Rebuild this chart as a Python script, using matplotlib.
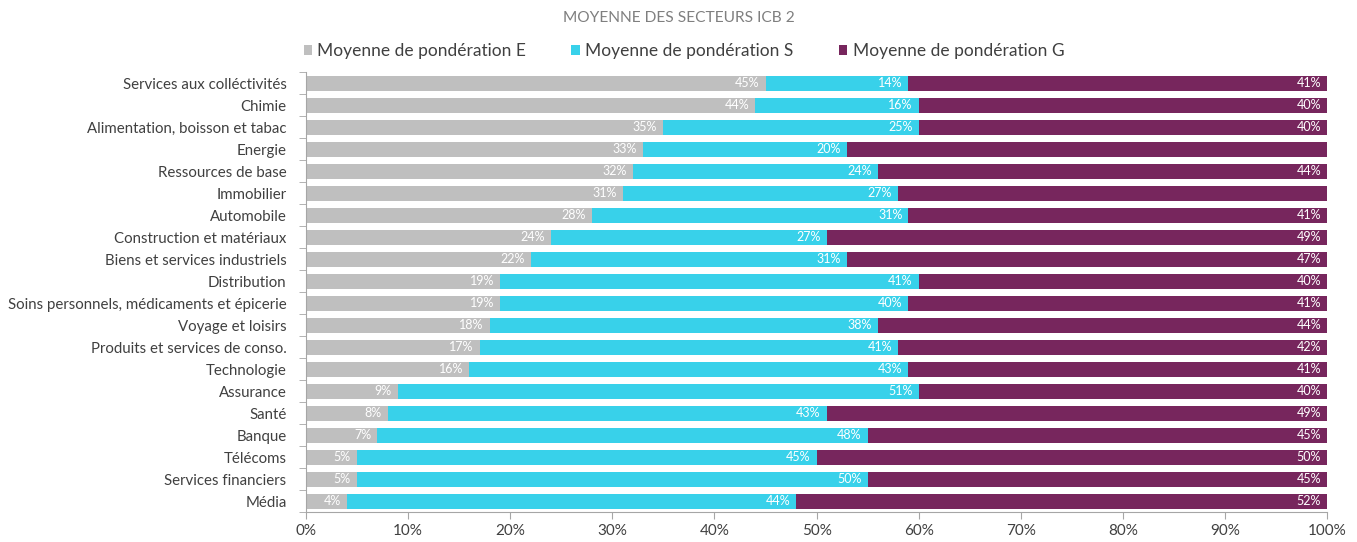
import numpy as np
import matplotlib
matplotlib.use("Agg")
import matplotlib.pyplot as plt
from matplotlib.ticker import FuncFormatter

plt.rcParams['font.family'] = ['Lato', 'DejaVu Sans']

# data (top to bottom)
secteurs = ['Services aux colléctivités', 'Chimie', 'Alimentation, boisson et tabac', 'Energie',
            'Ressources de base', 'Immobilier', 'Automobile', 'Construction et matériaux',
            'Biens et services industriels', 'Distribution',
            'Soins personnels, médicaments et épicerie', 'Voyage et loisirs',
            'Produits et services de conso.', 'Technologie', 'Assurance', 'Santé', 'Banque',
            'Télécoms', 'Services financiers', 'Média']
pond_E = [45, 44, 35, 33, 32, 31, 28, 24, 22, 19, 19, 18, 17, 16, 9, 8, 7, 5, 5, 4]
pond_S = [14, 16, 25, 20, 24, 27, 31, 27, 31, 41, 40, 38, 41, 43, 51, 43, 48, 45, 50, 44]
pond_G = [41, 40, 40, 47, 44, 42, 41, 49, 47, 40, 41, 44, 42, 41, 40, 49, 45, 50, 45, 52]
# G labels not shown on the original for Energie and Immobilier
show_G = [True, True, True, False, True, False] + [True] * 14

col_E = '#BFBFBF'
col_S = '#38D1EA'
col_G = '#77265D'

fig = plt.figure(figsize=(13.57, 5.42), dpi=100)
ax = fig.add_axes([0.2255, 0.055, 0.7525, 0.812])

y = np.arange(len(secteurs))
E = np.array(pond_E)
S = np.array(pond_S)
G = np.array(pond_G)
h = 0.68

bE = ax.barh(y, E, height=h, color=col_E, label='Moyenne de pondération E')
bS = ax.barh(y, S, left=E, height=h, color=col_S, label='Moyenne de pondération S')
bG = ax.barh(y, G, left=E + S, height=h, color=col_G, label='Moyenne de pondération G')

# data labels, right aligned inside each segment
for i in range(len(secteurs)):
    ax.text(E[i] - 0.6, y[i], f'{E[i]}%', ha='right', va='center', color='white', fontsize=9)
    ax.text(E[i] + S[i] - 0.6, y[i], f'{S[i]}%', ha='right', va='center', color='white', fontsize=9)
    if show_G[i]:
        ax.text(E[i] + S[i] + G[i] - 0.6, y[i], f'{G[i]}%', ha='right', va='center', color='white', fontsize=9)

ax.set_xlim(0, 100)
ax.set_ylim(len(secteurs) - 0.5, -0.5)
ax.set_xticks(np.arange(0, 101, 10))
ax.xaxis.set_major_formatter(FuncFormatter(lambda v, p: f'{int(v)}%'))
ax.set_yticks(y)
ax.set_yticklabels(secteurs)
ax.set_yticks(np.arange(-0.5, len(secteurs), 1), minor=True)
ax.tick_params(axis='y', which='major', length=0, pad=14, labelsize=10.8, labelcolor='#404040')
ax.tick_params(axis='y', which='minor', length=5, color='#A6A6A6')
ax.tick_params(axis='x', length=5, color='#A6A6A6', labelsize=11, labelcolor='#404040')

for s in ['top', 'right']:
    ax.spines[s].set_visible(False)
for s in ['left', 'bottom']:
    ax.spines[s].set_color('#A6A6A6')

fig.text(0.5, 0.967, 'MOYENNE DES SECTEURS ICB 2', ha='center', va='center',
         fontsize=11.2, color='#7F7F7F')
fig.legend(handles=[bE, bS, bG], loc='center', bbox_to_anchor=(0.504, 0.905), ncol=3,
           frameon=False, fontsize=12.5, labelcolor='#404040', handlelength=0.5,
           handleheight=0.5, handletextpad=0.3, columnspacing=2.6)

fig.savefig('out.png', dpi=100)
